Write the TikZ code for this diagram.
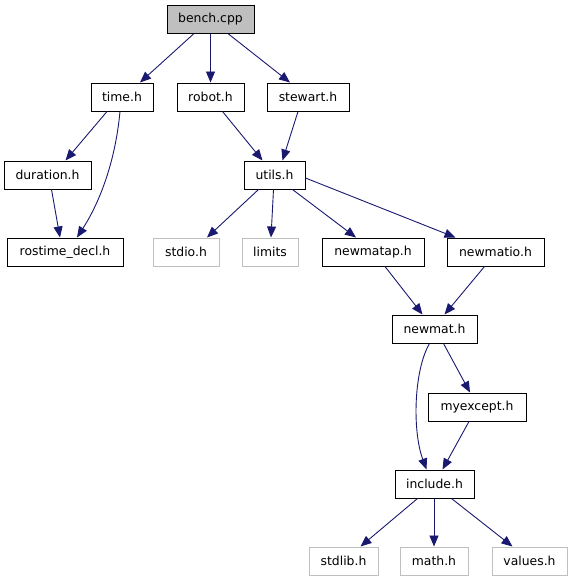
\documentclass[tikz,border=0pt]{standalone}
\usepackage{fontspec}
\setmainfont{DejaVu Sans}
\usetikzlibrary{arrows.meta}
\definecolor{edgeblue}{HTML}{191970}
\definecolor{sysgray}{HTML}{BFBFBF}
\tikzset{
  filebox/.style={draw=black, line width=1pt, minimum height=28pt, inner sep=0pt, font=\fontsize{12.4}{14}\selectfont, text=black},
  rootbox/.style={filebox, fill=sysgray},
  sysbox/.style={draw=sysgray, line width=1pt, minimum height=28pt, inner sep=0pt, font=\fontsize{12.4}{14}\selectfont, text=black},
  dep/.style={draw=edgeblue, line width=0.9pt, -{Triangle[length=11pt,width=9pt]}}
}
\begin{document}
\begin{tikzpicture}[x=1pt,y=-1pt]
\useasboundingbox (0,0) rectangle (572,581);
\node[rootbox, minimum width=87pt] (bench) at (210.5,19.5) {bench.cpp};
\node[filebox, minimum width=62pt] (time) at (122,97) {time.h};
\node[filebox, minimum width=67pt] (robot) at (210.5,97) {robot.h};
\node[filebox, minimum width=82pt] (stewart) at (308,97) {stewart.h};
\node[filebox, minimum width=87pt] (duration) at (47.5,175) {duration.h};
\node[filebox, minimum width=61pt] (utils) at (274.5,175) {utils.h};
\node[filebox, minimum width=116pt] (rostime) at (65,252) {rostime\_decl.h};
\node[sysbox, minimum width=66pt] (stdio) at (186,252) {stdio.h};
\node[sysbox, minimum width=56pt] (limits) at (270,252) {limits};
\node[filebox, minimum width=102pt] (newmatap) at (373,252) {newmatap.h};
\node[filebox, minimum width=97pt] (newmatio) at (495.5,252) {newmatio.h};
\node[filebox, minimum width=85pt] (newmat) at (434.5,329) {newmat.h};
\node[filebox, minimum width=98pt] (myexcept) at (477,407) {myexcept.h};
\node[filebox, minimum width=79pt] (include) at (434.5,484) {include.h};
\node[sysbox, minimum width=69pt] (stdlib) at (343.5,561) {stdlib.h};
\node[sysbox, minimum width=68pt] (math) at (434,561) {math.h};
\node[sysbox, minimum width=75pt] (values) at (529.5,561) {values.h};

\draw[dep] ([xshift=-17pt]bench.south) -- ([xshift=18pt]time.north);
\draw[dep] (bench.south) -- (robot.north);
\draw[dep] ([xshift=18pt]bench.south) -- ([xshift=-18pt]stewart.north);
\draw[dep] ([xshift=-15pt]time.south) -- ([xshift=18pt]duration.north);
\draw[dep] ([xshift=-2pt]time.south) .. controls (115,165) and (98,205) .. ([xshift=12pt]rostime.north);
\draw[dep] ([xshift=4pt]duration.south) -- ([xshift=-5pt]rostime.north);
\draw[dep] ([xshift=12pt]robot.south) -- ([xshift=-12pt]utils.north);
\draw[dep] ([xshift=-10pt]stewart.south) -- ([xshift=8pt]utils.north);
\draw[dep] ([xshift=-16pt]utils.south) -- ([xshift=21pt]stdio.north);
\draw[dep] ([xshift=-1pt]utils.south) -- ([xshift=1pt]limits.north);
\draw[dep] ([xshift=18pt]utils.south) -- ([xshift=-17pt]newmatap.north);
\draw[dep] ([yshift=-3pt]utils.east) -- ([xshift=-40pt]newmatio.north);
\draw[dep] ([xshift=12pt]newmatap.south) -- ([xshift=-12pt]newmat.north);
\draw[dep] ([xshift=-11pt]newmatio.south) -- ([xshift=10pt]newmat.north);
\draw[dep] ([xshift=-5pt]newmat.south) .. controls (414,370) and (412,430) .. ([xshift=-8pt]include.north);
\draw[dep] ([xshift=9pt]newmat.south) -- ([xshift=-7pt]myexcept.north);
\draw[dep] ([xshift=-8pt]myexcept.south) -- ([xshift=8pt]include.north);
\draw[dep] ([xshift=-17pt]include.south) -- ([xshift=17pt]stdlib.north);
\draw[dep] ([xshift=-0.5pt]include.south) -- (math.north);
\draw[dep] ([xshift=17pt]include.south) -- ([xshift=-17pt]values.north);
\end{tikzpicture}
\end{document}
